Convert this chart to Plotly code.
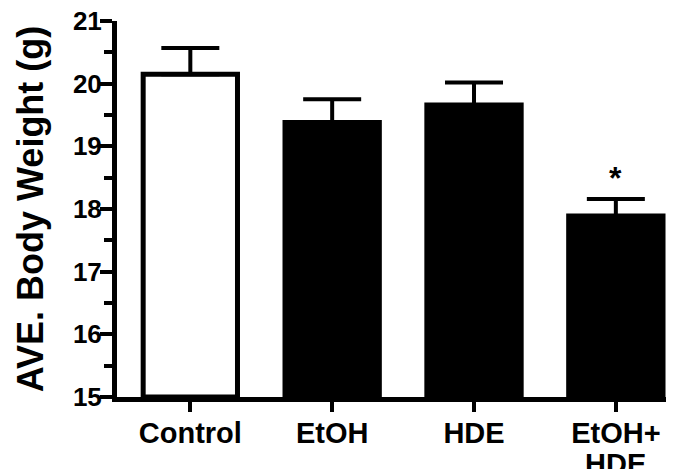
import plotly.graph_objects as go

categories = ["Control", "EtOH", "HDE", "EtOH+\nHDE"]
means = [20.15, 19.38, 19.66, 17.89]
sem_upper = [0.42, 0.37, 0.36, 0.27]
bar_fill = ["white", "black", "black", "black"]
sig_marks = ["", "", "", "*"]
y_ticks = [15, 16, 17, 18, 19, 20, 21]

FONT = "Liberation Sans, Arial, Helvetica, sans-serif"
XFONT = dict(family=FONT, size=29, color="black", weight="bold")

first_lines = [c.split("\n")[0] for c in categories]
second_lines = [c.split("\n")[1] if "\n" in c else "" for c in categories]

fig = go.Figure()
fig.add_trace(go.Bar(
    x=list(range(len(categories))),
    y=[m - 15 for m in means],
    base=15,
    width=0.665,
    marker=dict(color=bar_fill, line=dict(color="black", width=5)),
    error_y=dict(type="data", symmetric=False, array=sem_upper,
                 arrayminus=[0] * len(means), color="black",
                 thickness=4, width=29),
    showlegend=False,
    hoverinfo="skip",
))

for i, s in enumerate(sig_marks):
    if s:
        fig.add_annotation(x=i, y=means[i] + sem_upper[i] + 0.34, text=s,
                           showarrow=False, xref="x", yref="y",
                           yanchor="middle",
                           font=dict(family=FONT, size=32, color="black",
                                     weight="bold"))

for i, s in enumerate(second_lines):
    if s:
        fig.add_annotation(x=i, y=-0.13, text=s, showarrow=False,
                           xref="x", yref="paper", yanchor="top",
                           font=XFONT)

fig.update_layout(
    width=666, height=461,
    margin=dict(l=109, r=0, t=12.5, b=71.5),
    paper_bgcolor="white", plot_bgcolor="white",
    font=dict(family=FONT, color="black"),
)
fig.update_xaxes(
    range=[-0.517, 3.41], automargin=False,
    tickmode="array", tickvals=list(range(len(categories))), ticktext=first_lines,
    showline=True, linewidth=5, linecolor="black",
    ticks="outside", ticklen=10, tickwidth=4, tickcolor="black",
    ticklabelstandoff=-4, ticklabeloverflow="allow",
    tickfont=XFONT,
    showgrid=False, zeroline=False, fixedrange=True,
)
fig.update_yaxes(
    range=[15, 21], automargin=False,
    tickmode="array", tickvals=y_ticks,
    showline=True, linewidth=5, linecolor="black",
    ticks="outside", ticklen=12, tickwidth=4, tickcolor="black",
    ticklabelstandoff=-7, ticklabeloverflow="allow",
    minor=dict(dtick=0.5, tick0=15, ticks="outside", ticklen=8, tickwidth=4,
               tickcolor="black", showgrid=False),
    tickfont=dict(family=FONT, size=26, color="black", weight="bold"),
    title=dict(text="AVE. Body Weight (g)", standoff=20,
               font=dict(family=FONT, size=36, color="black", weight="bold")),
    showgrid=False, zeroline=False, fixedrange=True,
)

fig.write_html("out.html", config={"displayModeBar": False})
